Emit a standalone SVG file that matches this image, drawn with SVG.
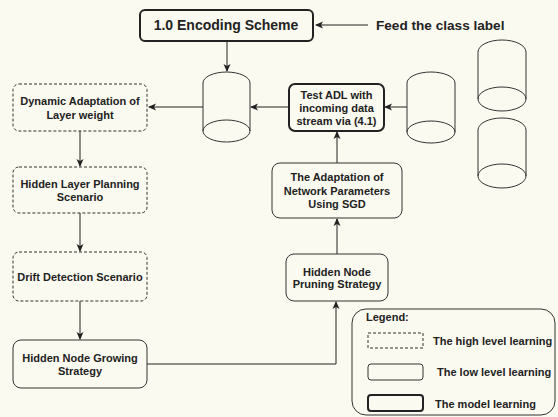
<svg xmlns="http://www.w3.org/2000/svg" width="558" height="417" viewBox="0 0 558 417">
<style>
.bg{fill:#fbfaf0}
.hi{fill:none;stroke:#333;stroke-width:1;stroke-dasharray:3 2}
.lo{fill:none;stroke:#333;stroke-width:1}
.mo{fill:none;stroke:#222;stroke-width:2}
.cyl{fill:none;stroke:#333;stroke-width:1}
.t{font-family:"Liberation Sans",Arial,sans-serif;font-weight:bold;font-size:11px;fill:#222;text-anchor:middle}
.tl{font-family:"Liberation Sans",Arial,sans-serif;font-weight:bold;font-size:11px;fill:#222}
.c{fill:none;stroke:#222;stroke-width:1}
</style>
<defs>
<marker id="ah" viewBox="0 0 8 8" refX="7" refY="4" markerWidth="8" markerHeight="8" markerUnits="userSpaceOnUse" orient="auto">
<path d="M0,0.5 L8,4 L0,7.5 L2,4 Z" fill="#222"/>
</marker>
</defs>
<rect class="bg" x="0" y="0" width="558" height="417"/>

<g id="connectors">
<line class="c" x1="368" y1="25" x2="316" y2="25" marker-end="url(#ah)"/>
<line class="c" x1="227" y1="41" x2="227" y2="71" marker-end="url(#ah)"/>
<line class="c" x1="203" y1="107" x2="149" y2="107" marker-end="url(#ah)"/>
<line class="c" x1="289" y1="107" x2="251" y2="107" marker-end="url(#ah)"/>
<line class="c" x1="407" y1="107" x2="385" y2="107" marker-end="url(#ah)"/>
<line class="c" x1="80" y1="131" x2="80" y2="166" marker-end="url(#ah)"/>
<line class="c" x1="80" y1="213" x2="80" y2="251" marker-end="url(#ah)"/>
<line class="c" x1="80" y1="301" x2="80" y2="339" marker-end="url(#ah)"/>
<polyline class="c" points="147,364 336,364 336,302" marker-end="url(#ah)"/>
<line class="c" x1="337" y1="254" x2="337" y2="219" marker-end="url(#ah)"/>
<line class="c" x1="337" y1="163" x2="337" y2="132" marker-end="url(#ah)"/>
</g>

<g id="encoding">
<rect class="mo" x="140" y="10" width="173" height="31" rx="5"/>
<text class="t" x="226" y="30" style="font-size:14px">1.0 Encoding Scheme</text>
</g>
<g id="feed">
<text class="tl" x="376" y="30" style="font-size:13.6px">Feed the class label</text>
</g>

<g id="cyl1">
<path class="cyl" d="M203,83 A23.5,11 0 0 1 250,83 L250,131 M203,83 L203,131"/>
<ellipse class="cyl" cx="226.5" cy="131" rx="23.5" ry="11"/>
</g>
<g id="cyl2">
<path class="cyl" d="M407,83 A24,11 0 0 1 455,83 L455,132 M407,83 L407,132"/>
<ellipse class="cyl" cx="431" cy="132" rx="24" ry="11"/>
</g>
<g id="cyl3">
<path class="cyl" d="M478,52 A24,12 0 0 1 526,52 L526,99 M478,52 L478,99"/>
<ellipse class="cyl" cx="502" cy="99" rx="24" ry="12"/>
</g>
<g id="cyl4">
<path class="cyl" d="M478,130 A24,12 0 0 1 526,130 L526,176 M478,130 L478,176"/>
<ellipse class="cyl" cx="502" cy="176" rx="24" ry="12"/>
</g>

<g id="dynamic">
<rect class="hi" x="13" y="84" width="134" height="47" rx="6"/>
<text class="t" x="80" y="105">Dynamic Adaptation of</text>
<text class="t" x="80" y="119">Layer weight</text>
</g>
<g id="planning">
<rect class="hi" x="13" y="167" width="134" height="46" rx="6"/>
<text class="t" x="80" y="188">Hidden Layer Planning</text>
<text class="t" x="80" y="201">Scenario</text>
</g>
<g id="drift">
<rect class="hi" x="13" y="252" width="134" height="49" rx="6"/>
<text class="t" x="80" y="281">Drift Detection Scenario</text>
</g>
<g id="growing">
<rect class="lo" x="13" y="340" width="134" height="48" rx="8"/>
<text class="t" x="80" y="362">Hidden Node Growing</text>
<text class="t" x="80" y="375">Strategy</text>
</g>
<g id="pruning">
<rect class="lo" x="286" y="254" width="102" height="47" rx="8"/>
<text class="t" x="337" y="276">Hidden Node</text>
<text class="t" x="337" y="288">Pruning Strategy</text>
</g>
<g id="adaptation">
<rect class="lo" x="272" y="163" width="130" height="55" rx="8"/>
<text class="t" x="337" y="181">The Adaptation of</text>
<text class="t" x="337" y="195">Network Parameters</text>
<text class="t" x="337" y="208">Using SGD</text>
</g>
<g id="test">
<rect class="mo" x="289" y="84" width="95" height="47" rx="6"/>
<text class="t" x="336.5" y="99">Test ADL with</text>
<text class="t" x="336.5" y="112">incoming data</text>
<text class="t" x="336.5" y="125">stream via (4.1)</text>
</g>

<g id="legend">
<rect class="lo" x="352" y="309" width="203" height="106" rx="14"/>
<text class="tl" x="366" y="321">Legend:</text>
<rect class="hi" x="368" y="333" width="55" height="15"/>
<text class="tl" x="433" y="345">The high level learning</text>
<rect class="lo" x="368" y="364" width="55" height="16" rx="3"/>
<text class="tl" x="437" y="376">The low level learning</text>
<rect class="mo" x="368" y="395" width="55" height="16" rx="3"/>
<text class="tl" x="435" y="408">The model learning</text>
</g>
</svg>
